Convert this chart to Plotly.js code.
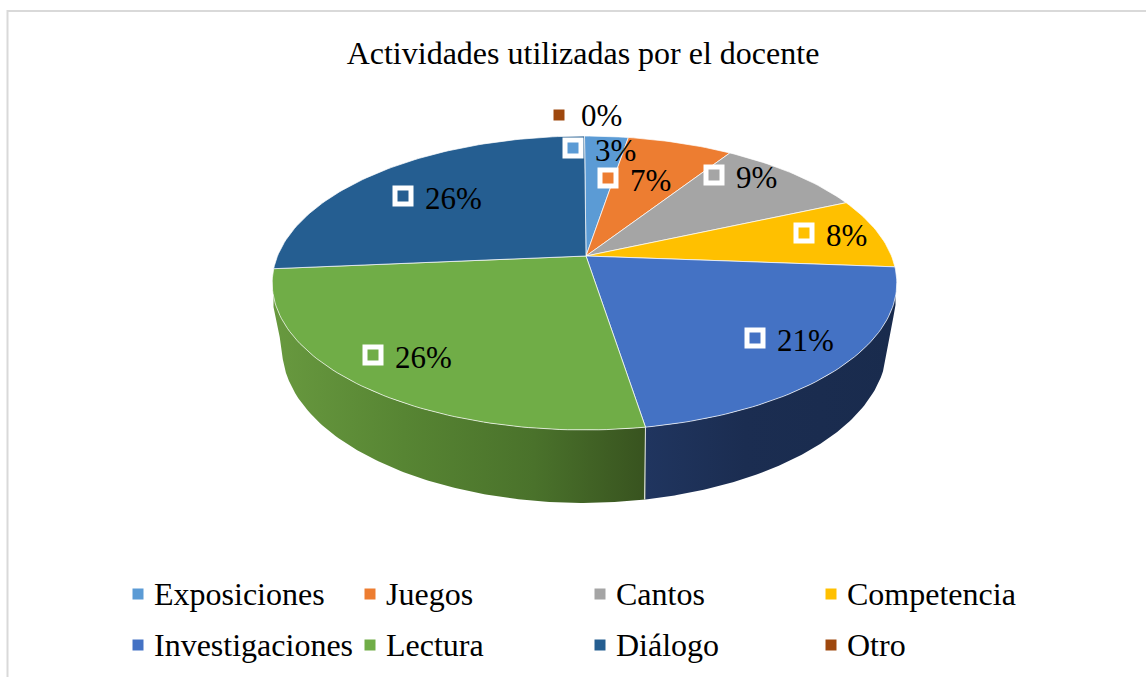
<!DOCTYPE html>
<html>
<head>
<meta charset="utf-8">
<script src="https://cdn.plot.ly/plotly-3.0.1.min.js"></script>
<style>html,body{margin:0;padding:0;background:#fff}#chart{width:1146px;height:677px}</style>
</head>
<body>
<div id="chart"></div>
<script>
// Data
const categories = ['Exposiciones','Juegos','Cantos','Competencia','Investigaciones','Lectura','Diálogo','Otro'];
const percentages = [2.7, 6.5, 9.2, 7.8, 21.2, 26.2, 26.4, 0];
const chartTitle = 'Actividades utilizadas por el docente';

// Styles
const seriesColors = ['#5b9bd5','#ed7d31','#a5a5a5','#ffc000','#4472c4','#70ad47','#255e91','#9e480e'];
const FONT = '"Liberation Serif","Times New Roman",serif';

// Layout of labels (pixel positions: marker centre, label text starts to the right)
const labelMarkerX = [573, 608, 714, 804, 755, 373, 403, 559];
const labelMarkerY = [148, 178, 175, 233, 338, 355, 196, 115];
const labelTextDy = [2, 2, 2, 2, 2, 2, 2, 0];
const labelGap = 22;
const legendColX = [138, 370, 600, 831];
const legendRowY = [594, 645];

// Perspective projection of the pie's circular top face
const apex = {x: 586, y: 256};
const rimCx = 584.5;
const K = 0.1837, A = 142, B = 307;
function rim(t) {           // t = fraction of the circle, clockwise from the top
  const a = 2 * Math.PI * t, u = Math.sin(a), v = Math.cos(a), d = 1 + K * v;
  return [rimCx + B * u / d, apex.y - A * v / d];
}
const upE = {cx: 584.5, cy: 283, rx: 312, ry: 147};
const lowL = {cx: 585, cy: 348, rx: 303, ry: 155};
const lowR = {cx: 581, cy: 346, rx: 306, ry: 157};
const ellY = (e, x) => e.cy + e.ry * Math.sqrt(Math.max(0, 1 - Math.pow((x - e.cx) / e.rx, 2)));
function lowerY(x) {
  const ls = 273.5, rs = 895.5;
  if (x < 282) return 307 + (x - ls) / (282 - ls) * (ellY(lowL, 282) - 307);
  if (x > 885) return ellY(lowR, 885) + (x - 885) / (rs - 885) * (305 - ellY(lowR, 885));
  return x < 585 ? ellY(lowL, x) : ellY(lowR, x);
}
function wall(x0, x1) {
  const xs = [], ys = [], n = 120;
  for (let i = 0; i <= n; i++) { const x = x0 + (x1 - x0) * i / n; xs.push(x); ys.push(ellY(upE, x)); }
  for (let i = n; i >= 0; i--) { const x = x0 + (x1 - x0) * i / n; xs.push(x); ys.push(lowerY(x)); }
  xs.push(xs[0]); ys.push(ys[0]);
  return {xs, ys};
}

const total = percentages.reduce((a, b) => a + b, 0);
const traces = [];
const boundaries = [];
let acc = 0;
percentages.forEach(p => { boundaries.push(acc / total); acc += p; });
const splitX = rim(boundaries[5])[0];

// Side walls of the pie
const greenWall = wall(273.5, splitX), navyWall = wall(splitX, 895.5);
traces.push({type:'scatter', mode:'lines', x:greenWall.xs, y:greenWall.ys, fill:'toself', hoverinfo:'skip', showlegend:false,
  line:{color:'rgba(255,255,255,0)', width:0},
  fillgradient:{type:'horizontal', colorscale:[[0,'#68993f'],[0.35,'#578533'],[0.7,'#4a722b'],[1,'#38531f']]}});
traces.push({type:'scatter', mode:'lines', x:navyWall.xs, y:navyWall.ys, fill:'toself', hoverinfo:'skip', showlegend:false,
  line:{color:'rgba(255,255,255,0)', width:0},
  fillgradient:{type:'horizontal', colorscale:[[0,'#20355f'],[0.4,'#1b2d51'],[1,'#192b4d']]}});
traces.push({type:'scatter', mode:'lines', x:[splitX, splitX - 1], y:[ellY(upE, splitX), lowerY(splitX)], hoverinfo:'skip', showlegend:false,
  line:{color:'rgba(255,255,255,0.8)', width:1}});

// Top face slices
percentages.forEach((p, i) => {
  if (p <= 0) return;
  const t0 = boundaries[i], t1 = t0 + p / total;
  const xs = [apex.x], ys = [apex.y], n = Math.max(8, Math.ceil(p * 3));
  for (let j = 0; j <= n; j++) { const q = rim(t0 + (t1 - t0) * j / n); xs.push(q[0]); ys.push(q[1]); }
  xs.push(apex.x); ys.push(apex.y);
  traces.push({type:'scatter', mode:'lines', x:xs, y:ys, fill:'toself', fillcolor:seriesColors[i], name:categories[i],
    hoverinfo:'name', showlegend:false, line:{color:'rgba(255,255,255,0.7)', width:1}});
});

// Data label markers
traces.push({type:'scatter', mode:'markers', x:labelMarkerX.slice(0, 7), y:labelMarkerY.slice(0, 7), hoverinfo:'skip', showlegend:false,
  marker:{symbol:'square', size:16, color:seriesColors.slice(0, 7), line:{color:'#ffffff', width:5}}});
traces.push({type:'scatter', mode:'markers', x:labelMarkerX.slice(7), y:labelMarkerY.slice(7), hoverinfo:'skip', showlegend:false,
  marker:{symbol:'square', size:11, color:seriesColors[7]}});

// Legend drawn on the same pixel scale
const legX = categories.map((c, i) => legendColX[i % 4]);
const legY = categories.map((c, i) => legendRowY[Math.floor(i / 4)]);
traces.push({type:'scatter', mode:'markers', x:legX, y:legY, hoverinfo:'skip', showlegend:false,
  marker:{symbol:'square', size:11, color:seriesColors}});

const annotations = [];
percentages.forEach((p, i) => {
  annotations.push({x:labelMarkerX[i] + labelGap, y:labelMarkerY[i] + labelTextDy[i], xref:'x', yref:'y', xanchor:'left', yanchor:'middle',
    showarrow:false, text:Math.round(p) + '%', font:{family:FONT, size:31, color:'#000'}, borderpad:0, borderwidth:0});
});
categories.forEach((c, i) => {
  annotations.push({x:legX[i] + 15.5, y:legY[i], xref:'x', yref:'y', xanchor:'left', yanchor:'middle',
    showarrow:false, text:c, font:{family:FONT, size:32, color:'#000'}, borderpad:0, borderwidth:0});
});

const layout = {
  width:1146, height:677, autosize:false, showlegend:false,
  paper_bgcolor:'#ffffff', plot_bgcolor:'#ffffff',
  margin:{l:0, r:0, t:0, b:0},
  title:{text:chartTitle, x:583/1146, xanchor:'center', xref:'paper', y:1-53/677, yanchor:'middle', yref:'container',
    font:{family:FONT, size:32, color:'#000'}},
  xaxis:{range:[0,1146], visible:false, fixedrange:true},
  yaxis:{range:[677,0], visible:false, fixedrange:true},
  shapes:[{type:'path', path:'M 7.5 677 L 7.5 11 L 1146 11', xref:'x', yref:'y', line:{color:'#d9d9d9', width:2}, layer:'below'}],
  annotations
};
Plotly.newPlot('chart', traces, layout, {displayModeBar:false, staticPlot:true});
</script>
</body>
</html>
